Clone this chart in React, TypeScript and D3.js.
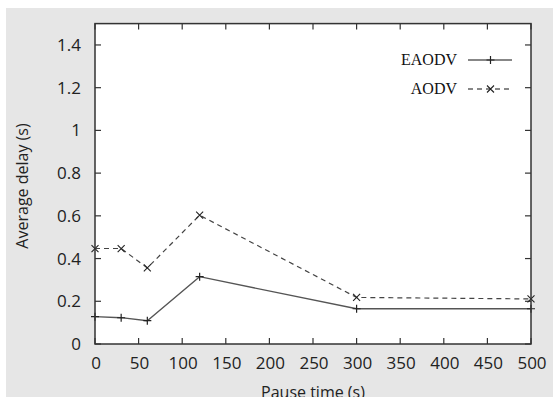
import React from 'react';
import * as d3 from 'd3';

const pauseTimes = [0, 30, 60, 120, 300, 500];
const eaodvDelay = [0.128, 0.123, 0.109, 0.315, 0.165, 0.165];
const aodvDelay = [0.447, 0.447, 0.356, 0.603, 0.218, 0.211];
const xTicks = [0, 50, 100, 150, 200, 250, 300, 350, 400, 450, 500];
const yTicks = [0, 0.2, 0.4, 0.6, 0.8, 1, 1.2, 1.4];

const W = 553, H = 397;
const left = 95, right = 531, top = 23.6, bottom = 344;

const App = () => {
  const x = d3.scaleLinear().domain([0, 500]).range([left, right]);
  const y = d3.scaleLinear().domain([0, 1.5]).range([bottom, top]);
  const line = d3.line<number>().x((_, i) => x(pauseTimes[i])).y(d => y(d));
  const font = '"Open Sans", sans-serif';
  const tick = 6;

  const plus = (cx: number, cy: number, k: string) => (
    <path key={k} d={`M${cx - 4},${cy}H${cx + 4}M${cx},${cy - 4}V${cy + 4}`} stroke="#222" strokeWidth={1.2} />
  );
  const cross = (cx: number, cy: number, k: string) => (
    <path key={k} d={`M${cx - 3.5},${cy - 3.5}L${cx + 3.5},${cy + 3.5}M${cx - 3.5},${cy + 3.5}L${cx + 3.5},${cy - 3.5}`} stroke="#222" strokeWidth={1.1} />
  );

  return (
    <svg width={W} height={H} style={{ position: 'absolute', left: 0, top: 0 }}>
      <rect x={0} y={0} width={W} height={H} fill="#fff" />
      <rect x={6} y={8} width={W - 6} height={H - 8} fill="#e6e6e6" />
      <rect x={left} y={top} width={right - left} height={bottom - top} fill="#fff" />

      {/* ticks, inward on all sides */}
      {xTicks.map(t => (
        <g key={'xt' + t} stroke="#333" strokeWidth={1.2}>
          <line x1={x(t)} x2={x(t)} y1={bottom} y2={bottom - tick} />
          <line x1={x(t)} x2={x(t)} y1={top} y2={top + tick} />
        </g>
      ))}
      {yTicks.map(t => (
        <g key={'yt' + t} stroke="#333" strokeWidth={1.2}>
          <line x1={left} x2={left + tick} y1={y(t)} y2={y(t)} />
          <line x1={right} x2={right - tick} y1={y(t)} y2={y(t)} />
        </g>
      ))}

      {/* tick labels */}
      {xTicks.map(t => (
        <text key={'xl' + t} x={x(t) + 1} y={369} textAnchor="middle" fontFamily={font} fontSize={17} fill="#222">{t}</text>
      ))}
      {yTicks.map(t => (
        <text key={'yl' + t} x={81} y={y(t) + 6} textAnchor="end" fontFamily={font} fontSize={17} fill="#222">{d3.format('~g')(t)}</text>
      ))}

      <text x={313} y={397.5} textAnchor="middle" fontFamily={font} fontSize={16} fill="#222">Pause time (s)</text>
      <text transform="translate(28,186) rotate(-90)" textAnchor="middle" fontFamily={font} fontSize={16} fill="#222">Average delay (s)</text>

      {/* series */}
      <path d={line(aodvDelay) || ''} fill="none" stroke="#444" strokeWidth={1.2} strokeDasharray="5,4" />
      <path d={line(eaodvDelay) || ''} fill="none" stroke="#555" strokeWidth={1.3} />
      {eaodvDelay.map((d, i) => plus(x(pauseTimes[i]), y(d), 'p' + i))}
      {aodvDelay.map((d, i) => cross(x(pauseTimes[i]), y(d), 'c' + i))}

      <rect x={left} y={top} width={right - left} height={bottom - top} fill="none" stroke="#333" strokeWidth={1.5} />

      {/* legend */}
      <text x={457} y={65} textAnchor="end" fontFamily='"Liberation Serif", serif' fontSize={16} fill="#111">EAODV</text>
      <line x1={468} x2={512} y1={60} y2={60} stroke="#111" strokeWidth={1.2} />
      {plus(490.5, 60, 'lp')}
      <text x={457} y={94} textAnchor="end" fontFamily='"Liberation Serif", serif' fontSize={16} fill="#111">AODV</text>
      <line x1={468} x2={512} y1={89} y2={89} stroke="#111" strokeWidth={1.2} strokeDasharray="5,4" />
      {cross(490.5, 89, 'lc')}
    </svg>
  );
};

export default App;
